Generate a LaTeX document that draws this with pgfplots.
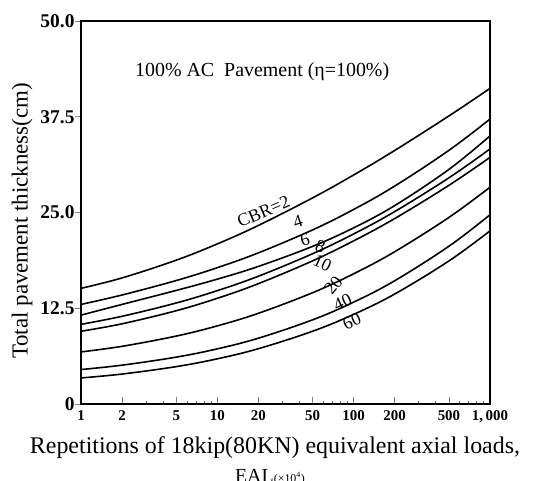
\documentclass[border=0pt]{standalone}
\usepackage{fontspec}
\setmainfont{Liberation Serif}
\usepackage{graphicx}
\usepackage{pgfplots}
\usepackage{pgfplotstable}
\pgfplotsset{compat=1.18}

% Thickness design curves: EAL (x10^4) against total thickness (cm) for each CBR
\pgfplotstableread{
eal  c2    c4    c6    c8    c10   c20   c40   c60
1    15.10 13.00 11.60 10.40 9.50  6.80  4.50  3.40
2    16.46 14.23 13.00 11.45 10.47 7.53  5.07  3.91
5    18.78 16.12 14.83 13.19 12.18 8.87  6.12  4.88
10   20.90 17.80 16.30 14.80 13.80 10.20 7.20  5.90
20   23.31 19.73 17.96 16.68 15.71 11.84 8.59  7.22
50   26.91 22.73 20.58 19.62 18.69 14.53 10.99 9.50
100  29.90 25.40 23.00 22.20 21.30 17.00 13.30 11.70
200  33.10 28.45 25.90 25.12 24.21 19.88 16.09 14.36
500  37.61 33.12 30.63 29.53 28.55 24.36 20.60 18.68
1000 41.20 37.20 35.00 33.30 32.20 28.30 24.70 22.60
}\designtable

\begin{document}
\begin{tikzpicture}
\begin{axis}[
  scale only axis,
  width=409bp, height=383bp,
  xmode=log, log basis x=10,
  xmin=1, xmax=1000, ymin=0, ymax=50,
  axis line style={line width=2.4bp},
  tick pos=left,
  tick align=inside,
  major tick length=7bp,
  minor tick length=3bp,
  xtick={1,2,5,10,20,50,100,200,500,1000},
  xticklabels={1,2,5,10,20,50,100,200,500,{1,\,000}},
  minor xtick={3,4,6,7,8,9,30,40,60,70,80,90,300,400,600,700,800,900},
  ytick={0,12.5,25,37.5,50},
  yticklabels={0,12.5,25.0,37.5,50.0},
  ytick style={line width=0.9bp, xshift=-6bp},
  xtick style={line width=0.9bp},
  minor tick style={line width=0.5bp, black!60},
  xticklabel style={font=\fontsize{15}{15}\selectfont\bfseries, yshift=-3bp},
  yticklabel style={font=\fontsize{19.5}{19.5}\selectfont\bfseries, xshift=-3bp},
  every axis plot post/.append style={black, solid, mark=none, line width=1.6bp, smooth, tension=0.6},
  clip=false,
]
\addplot table[x=eal, y=c2] {\designtable};
\addplot table[x=eal, y=c4] {\designtable};
\addplot table[x=eal, y=c6] {\designtable};
\addplot table[x=eal, y=c8] {\designtable};
\addplot table[x=eal, y=c10] {\designtable};
\addplot table[x=eal, y=c20] {\designtable};
\addplot table[x=eal, y=c40] {\designtable};
\addplot table[x=eal, y=c60] {\designtable};

% CBR labels along the curves
\begin{scope}[every node/.style={font=\fontsize{18}{18}\selectfont, inner sep=0pt}]
\node[rotate=23] at (axis cs:21.8,25.1) {CBR=2};
\node[rotate=18] at (axis cs:39,23.8) {4};
\node[rotate=15] at (axis cs:44,21.4) {6};
\node[rotate=-20] at (axis cs:57,20.6) {8};
\node[rotate=-25] at (axis cs:59,18.4) {10};
\node[rotate=50] at (axis cs:71,15.5) {20};
\node[rotate=25] at (axis cs:83,13.3) {40};
\node[rotate=25] at (axis cs:97,10.8) {60};
\end{scope}

\node[font=\fontsize{20}{20}\selectfont] at (rel axis cs:0.443,0.867)
  {100\% AC\ \ Pavement (η=100\%)};
\end{axis}

% axis titles
\node[rotate=90, font=\fontsize{23}{23}\selectfont] at (-59bp,183bp)
  {Total pavement thickness(cm)};
\node[anchor=base, font=\fontsize{24}{24}\selectfont] at (194bp,-49bp)
  {Repetitions of 18kip(80KN) equivalent axial loads,};
\node[anchor=base] at (189bp,-78bp)
  {\fontsize{20}{20}\selectfont EAL\fontsize{12}{12}\selectfont(×10\textsuperscript{4})};

\pgfresetboundingbox
\path (-81bp,-77bp) rectangle (455bp,404bp);
\end{tikzpicture}
\end{document}
